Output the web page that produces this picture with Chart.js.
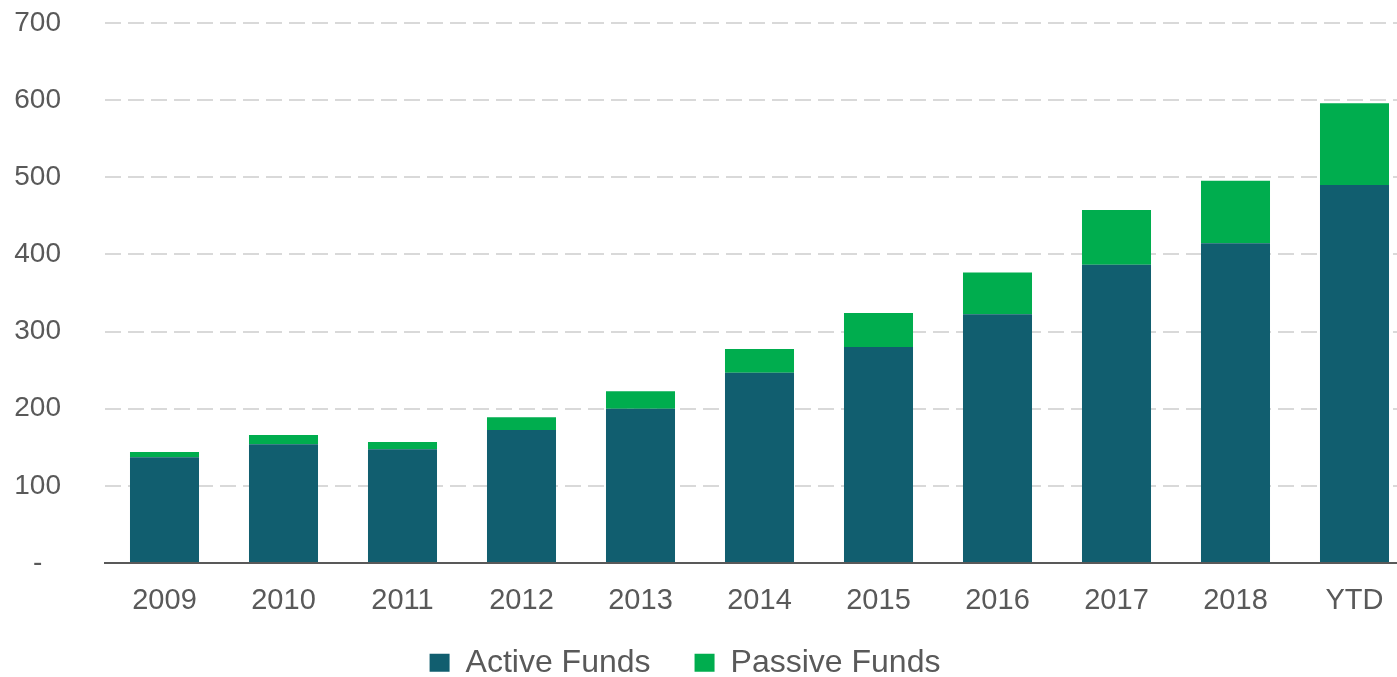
<!DOCTYPE html>
<html>
<head>
<meta charset="utf-8">
<script src="https://cdn.jsdelivr.net/npm/chart.js@4"></script>
<style>
  html, body { margin: 0; padding: 0; background: #fff; overflow: hidden; }
  #wrap { width: 1397px; height: 677px; overflow: hidden; }
  /* the source is cropped on the right (and the legend sits low), so draw on a bigger canvas */
  #box { position: relative; width: 1414px; height: 720px; }
</style>
</head>
<body>
<div id="wrap"><div id="box"><canvas id="c"></canvas></div></div>
<script>
// categories + values
const years   = ['2009','2010','2011','2012','2013','2014','2015','2016','2017','2018','YTD'];
const active  = [137, 154, 147.5, 172.5, 200, 246.5, 280, 322.5, 386.5, 414.5, 490];
const passive = [7, 12, 9.5, 16.5, 22.5, 31, 44, 54, 71, 81, 106];
const yMax = 700, yStep = 100;

const ACTIVE_COL  = '#115e6f';
const PASSIVE_COL = '#00ad4e';
const LEG_FONT = 32, LEG_PAD = 44;

Chart.defaults.font.family = '"Liberation Sans", Arial, sans-serif';
Chart.defaults.color = '#595959';

// move the legend to where it is in the reference (text centre ~y 661, a bit left of centre)
const shiftLegend = {
  id: 'shiftLegend',
  afterLayout(chart) {
    const l = chart.legend;
    const dy = 666 - (l.top + LEG_PAD + LEG_FONT * 1.2 / 2);
    l.left -= 22; l.right -= 22;
    l.top += dy; l.bottom += dy;
  }
};

new Chart(document.getElementById('c'), {
  type: 'bar',
  data: {
    labels: years,
    datasets: [
      { label: 'Active Funds',  data: active,  backgroundColor: ACTIVE_COL },
      { label: 'Passive Funds', data: passive, backgroundColor: PASSIVE_COL }
    ]
  },
  options: {
    responsive: true,
    maintainAspectRatio: false,
    animation: false,
    barPercentage: 0.58,
    categoryPercentage: 1,
    layout: { padding: 0 },
    plugins: {
      tooltip: { enabled: false },
      legend: {
        position: 'bottom',
        labels: { boxWidth: 20, boxHeight: 18, padding: LEG_PAD, font: { size: LEG_FONT }, color: '#595959' }
      }
    },
    scales: {
      x: {
        stacked: true,
        grid: { display: false },
        border: { display: true, color: '#595959', width: 2 },
        ticks: { font: { size: 29 }, padding: 13 },
        // plot bottom should land at y=563
        afterFit: s => { s.height = s.chart.height - 563 - s.chart.legend.height; }
      },
      y: {
        stacked: true,
        min: 0, max: yMax,
        grid: { color: '#d9d9d9', lineWidth: 2, drawTicks: false },
        border: { display: false, dash: [16, 7] },
        ticks: {
          stepSize: yStep,
          font: { size: 28 },
          padding: 44,
          crossAlign: 'center',
          callback: v => v === 0 ? '-' : v
        },
        afterFit: s => { s.width = 105; s.paddingTop = 23; s.paddingBottom = 0; }
      }
    }
  },
  plugins: [shiftLegend]
});
</script>
</body>
</html>
